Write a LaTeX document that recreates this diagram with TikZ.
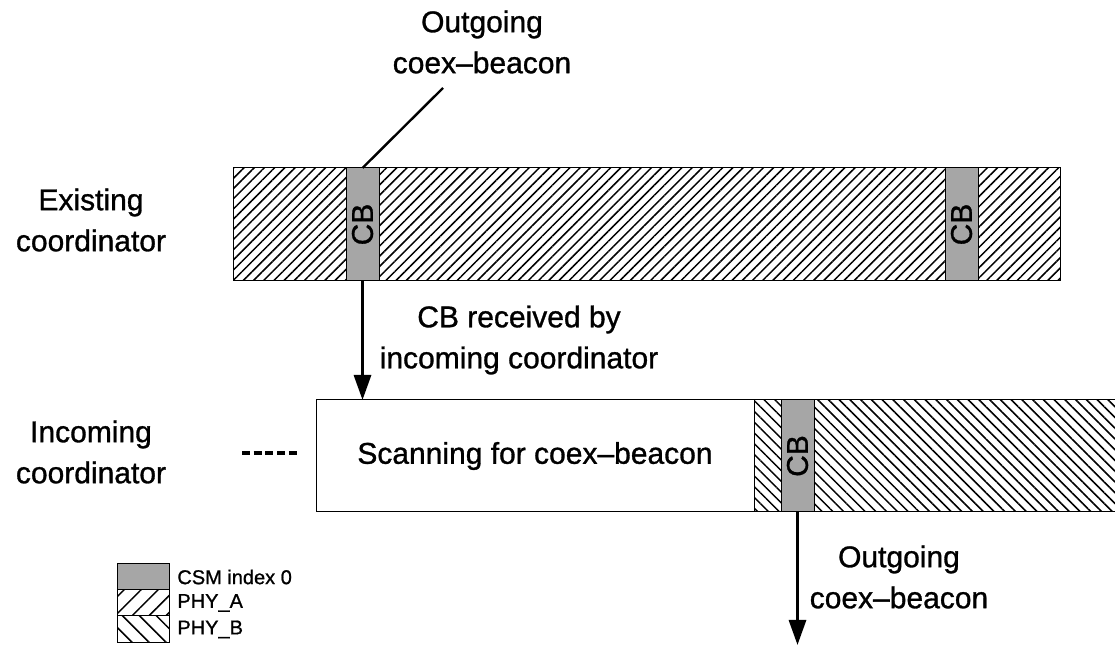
\documentclass[tikz,border=0pt]{standalone}
\usepackage{fontspec}
\setmainfont{Liberation Sans}[FakeBold=1]
\usetikzlibrary{arrows.meta,patterns.meta}

\tikzset{
  lbl/.style={align=center,inner sep=0pt,font=\fontsize{15}{20.5}\selectfont},
  leg/.style={anchor=west,inner sep=0pt,font=\fontsize{10}{12}\selectfont},
  phyA/.style={draw,line width=0.5pt,pattern={Lines[angle=45,distance=3.6pt,line width=0.75pt]}},
  phyB/.style={draw,line width=0.5pt,pattern={Lines[angle=-45,distance=3.8pt,line width=0.75pt]}},
  legA/.style={draw,line width=0.5pt,pattern={Lines[angle=45,distance=6pt,line width=0.75pt]}},
  legB/.style={draw,line width=0.5pt,pattern={Lines[angle=-45,distance=6pt,line width=0.75pt]}},
  cbbox/.style={draw,fill=black!35,line width=0.5pt,inner sep=0pt,outer sep=0pt,
    minimum width=16.5pt,minimum height=56.5pt,font=\fontsize{15}{18}\selectfont},
  arr/.style={line width=1.5pt,-{Triangle[width=8.5pt,length=12.5pt]}}
}

\begin{document}
\begin{tikzpicture}[x=0.5pt,y=-0.5pt]
 \useasboundingbox (0,0) rectangle (1115,646);
 \def\yE{224.5} % centro barra existente
 \def\yI{456}   % centro barra entrante
 % existing coordinator
 \draw[phyA] (233,168) rectangle (1060,281);
 \node[cbbox] (cbA) at (362.5,\yE) {\rotatebox{90}{CB}};
 \node[cbbox] (cbB) at (961.5,\yE) {\rotatebox{90}{CB}};
 % incoming coordinator
 \fill[pattern={Lines[angle=-45,distance=3.8pt,line width=0.75pt]}] (754,400) rectangle (1115,512);
 \draw[line width=0.5pt] (1116,400) -- (754,400) -- (754,512) -- (1116,512);
 \node[draw,line width=0.5pt,fill=white,inner sep=0pt,outer sep=0pt,minimum width=219pt,
   minimum height=56pt,font=\fontsize{15}{18}\selectfont] (scan) at (535,\yI) {Scanning for coex--beacon};
 \node[cbbox,minimum height=56pt] (cbC) at (797.5,\yI) {\rotatebox{90}{CB}};
 \draw[dash pattern=on 4pt off 1.85pt,line width=2pt] (242,453) -- (297,453); %continua
 % labels
 \node[lbl] (exi) at (91,220) {Existing\\coordinator};
 \node[lbl] (inc) at (91,452) {Incoming\\coordinator};
 \node[lbl] (outA) at (482,42) {Outgoing\\coex--beacon};
 \node[lbl] (rec) at (519,340) {CB received by\\incoming coordinator};
 \node[lbl] (outB) at (899,577) {Outgoing\\coex--beacon};
 \coordinate (tipA) at (443,88);
 \coordinate (endB) at (797.5,645);
 \draw[line width=1.2pt] (cbA.north) -- (tipA);
 \draw[arr] (cbA.south) -- (cbA.south |- scan.north);
 \draw[arr] (cbC.south) -- (endB);
 % legend
 \draw[line width=0.5pt,fill=black!35] (117,564) rectangle (169,590);
 \draw[legA] (117,590) rectangle (169,616);
 \draw[legB] (117,616) rectangle (169,643);
 \node[leg] (lc) at (177,577) {CSM index 0};
 \node[leg] (la) at (177,603) {PHY\_A};
 \node[leg] (lb) at (177,629.5) {PHY\_B};
\end{tikzpicture}
\end{document}
